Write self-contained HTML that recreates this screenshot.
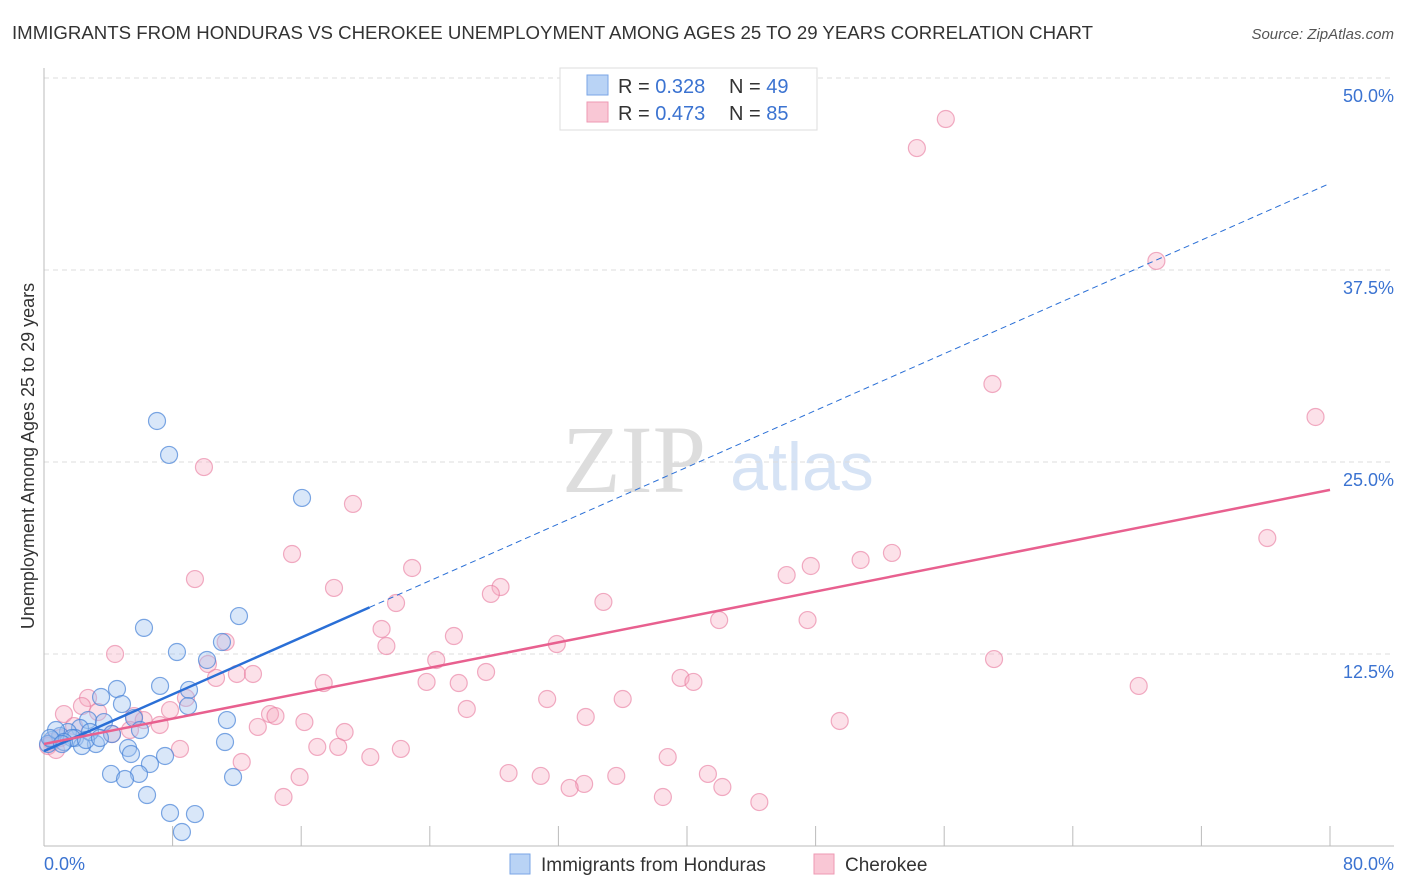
<!DOCTYPE html>
<html><head><meta charset="utf-8"><style>
body{margin:0;background:#fff;font-family:"Liberation Sans",sans-serif;}
svg{display:block}
</style></head><body>
<svg id="chart" width="1406" height="892">
<text x="12" y="39" font-size="18" fill="#333" textLength="1081" lengthAdjust="spacingAndGlyphs">IMMIGRANTS FROM HONDURAS VS CHEROKEE UNEMPLOYMENT AMONG AGES 25 TO 29 YEARS CORRELATION CHART</text>
<text x="1394" y="39" font-size="15" fill="#555" font-style="italic" text-anchor="end">Source: ZipAtlas.com</text>
<text x="634" y="492" font-size="96" fill="#ddd" font-family="Liberation Serif,serif" text-anchor="middle">ZIP</text>
<text x="802" y="490" font-size="68" fill="#d6e3f5" text-anchor="middle">atlas</text>
<g id="grid"></g>
<g id="axes"></g>
<g id="pts"></g>
<g id="lines"></g>
<text transform="translate(34,456) rotate(-90)" font-size="18" fill="#333" text-anchor="middle">Unemployment Among Ages 25 to 29 years</text>
<g>
<rect x="560" y="68" width="257" height="62" fill="#fff" stroke="#ddd"/>
<rect x="587" y="75" width="21" height="20" fill="#b9d3f5" stroke="#7aa6e6"/>
<rect x="587" y="102" width="21" height="20" fill="#f9c7d5" stroke="#ee99b3"/>
<text x="618" y="93" font-size="20" fill="#333">R = <tspan fill="#3b73d1">0.328</tspan></text>
<text x="729" y="93" font-size="20" fill="#333">N = <tspan fill="#3b73d1">49</tspan></text>
<text x="618" y="120" font-size="20" fill="#333">R = <tspan fill="#3b73d1">0.473</tspan></text>
<text x="729" y="120" font-size="20" fill="#333">N = <tspan fill="#3b73d1">85</tspan></text>
</g>
<g>
<rect x="510" y="854" width="20" height="20" fill="#b9d3f5" stroke="#7aa6e6"/>
<text x="541" y="871" font-size="19" fill="#333">Immigrants from Honduras</text>
<rect x="814" y="854" width="20" height="20" fill="#f9c7d5" stroke="#ee99b3"/>
<text x="845" y="871" font-size="19" fill="#333">Cherokee</text>
</g>
</svg>
<script>
const xTicks=[0,8,16,24,32,40,48,56,64,72,80];
const yTicks=[12.5,25,37.5,50];
const yTickLabels=["12.5%","25.0%","37.5%","50.0%"];
const blueX=[7.03,7.78,16.05,6.22,12.13,8.27,11.07,10.14,7.22,9.02,4.54,3.55,4.85,8.96,5.6,11.38,2.74,3.73,2.24,1.49,1.0,0.5,0.25,0.75,1.93,3.23,2.36,5.97,11.26,5.23,5.41,7.53,6.59,5.91,4.17,5.04,11.76,6.41,7.84,9.39,8.58,1.74,1.24,2.86,4.23,0.37,1.12,2.61,3.48];
const blueY=[27.67,25.46,22.66,14.2,14.97,12.63,13.28,12.11,10.42,10.16,10.22,9.7,9.24,9.11,8.33,8.2,8.2,8.07,7.68,7.42,7.16,6.9,6.64,7.55,7.03,6.64,6.51,7.55,6.77,6.38,5.99,5.86,5.34,4.69,4.69,4.36,4.49,3.32,2.15,2.08,0.91,7.03,6.77,7.42,7.29,7.03,6.64,6.9,7.03];
const pinkX=[56.1,54.3,69.2,59.0,79.1,9.95,19.22,76.1,15.43,52.75,50.8,47.7,46.2,22.9,9.39,18.04,28.4,27.8,21.9,34.8,42.0,47.5,21.0,25.5,11.3,21.3,31.9,4.42,10.2,24.4,59.1,12.0,13.0,10.7,27.5,39.6,40.4,17.4,23.8,25.8,68.1,2.74,31.3,36.0,8.83,2.36,3.36,26.3,1.24,7.84,14.06,14.4,33.7,5.6,6.2,16.2,49.5,7.2,13.3,1.87,5.35,18.7,4.23,17.0,18.3,8.46,22.2,20.3,38.8,12.3,15.9,28.9,30.9,35.6,41.3,33.6,32.7,42.2,14.9,38.5,44.5,0.5,0.25,1.0,0.75];
const pinkY=[47.33,45.44,38.09,30.08,27.93,24.67,22.27,20.05,19.01,19.08,18.62,18.23,17.64,18.1,17.38,16.8,16.86,16.41,15.82,15.89,14.71,14.71,14.13,13.67,13.28,13.02,13.15,12.5,11.85,12.11,12.17,11.2,11.2,10.94,11.33,10.94,10.68,10.61,10.68,10.61,10.42,9.64,9.57,9.57,9.64,9.11,8.72,8.92,8.59,8.85,8.59,8.46,8.4,8.46,8.2,8.07,8.14,7.88,7.75,7.81,7.55,7.42,7.29,6.45,6.45,6.32,6.32,5.79,5.79,5.47,4.49,4.75,4.56,4.56,4.69,4.04,3.78,3.84,3.19,3.19,2.86,6.77,6.51,7.03,6.25];
const blueTrend=[6.18,0.462];
const pinkTrend=[6.64,0.2068];
const NS="http://www.w3.org/2000/svg";
const X=v=>44+v*16.075, Y=v=>846-v*15.36;
function mk(tag,attrs,parent){const e=document.createElementNS(NS,tag);for(const k in attrs)e.setAttribute(k,attrs[k]);document.getElementById(parent).appendChild(e);return e;}
let e;
yTicks.forEach((t,i)=>{
 e=mk('line',{x1:44,x2:1394,y1:Y(t),y2:Y(t),stroke:'#ddd','stroke-dasharray':'5,4'},'grid');
 
 
 e=mk('text',{x:1394,y:Y(t)+24,'font-size':18,fill:'#3b73d1','text-anchor':'end'},'axes');
 e.textContent=yTickLabels[i];
 
 
});
e=mk('line',{x1:44,x2:44,y1:68,y2:846,stroke:'#bbb'},'axes');


e=mk('line',{x1:44,x2:1394,y1:846,y2:846,stroke:'#bbb'},'axes');


xTicks.forEach(t=>{
 e=mk('line',{x1:X(t),x2:X(t),y1:826,y2:846,stroke:'#bbb'},'axes');
 
 
});
e=mk('text',{x:44,y:870,'font-size':18,fill:'#3b73d1'},'axes');e.textContent=xTicks[0].toFixed(1)+'%';


e=mk('text',{x:1394,y:870,'font-size':18,fill:'#3b73d1','text-anchor':'end'},'axes');e.textContent=xTicks[xTicks.length-1].toFixed(1)+'%';


pinkX.forEach((x,i)=>{
 e=mk('circle',{cx:X(x),cy:Y(pinkY[i]),r:8.5,fill:'rgba(246,168,193,0.35)',stroke:'rgba(232,120,156,0.6)','stroke-width':1.2},'pts');
 
 
});
blueX.forEach((x,i)=>{
 e=mk('circle',{cx:X(x),cy:Y(blueY[i]),r:8.5,fill:'rgba(160,196,240,0.4)',stroke:'rgba(70,130,215,0.7)','stroke-width':1.2},'pts');
 
 
});
const bMax=Math.max(...blueX)+4.2;
e=mk('line',{x1:X(0),y1:Y(blueTrend[0]),x2:X(bMax),y2:Y(blueTrend[0]+blueTrend[1]*bMax),stroke:'#2a6fd6','stroke-width':2.5},'lines');


e=mk('line',{x1:X(bMax),y1:Y(blueTrend[0]+blueTrend[1]*bMax),x2:X(80),y2:Y(blueTrend[0]+blueTrend[1]*80),stroke:'#2a6fd6','stroke-width':1,'stroke-dasharray':'6,4'},'lines');


e=mk('line',{x1:X(0),y1:Y(pinkTrend[0]),x2:X(80),y2:Y(pinkTrend[0]+pinkTrend[1]*80),stroke:'#e8608f','stroke-width':2.5},'lines');


</script>
</body></html>
